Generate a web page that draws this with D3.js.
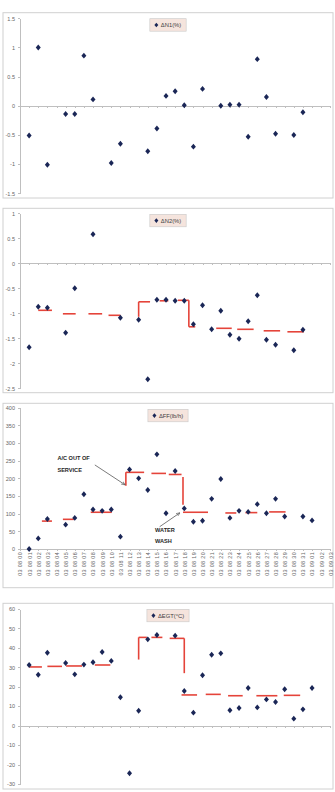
<!DOCTYPE html>
<html>
<head>
<meta charset="utf-8">
<script src="https://cdn.jsdelivr.net/npm/d3@7"></script>
<style>
  body { margin: 0; background: #fff; }
  svg { display: block; font-family: "Liberation Sans", Arial, sans-serif; }
  .axis text { fill: #666; font-size: 5.5px; }
  .axis path, .axis line { stroke: #bfbfbf; shape-rendering: crispEdges; }
  .note { font-size: 5.6px; font-weight: bold; fill: #262626; }
</style>
</head>
<body>
<div class="chart"></div>
<script>
// category labels (only shown under the FF panel)
var categories = ["03 08 00", "03 08 01", "03 08 02", "03 08 03", "03 08 04", "03 08 05",
  "03 08 06", "03 08 07", "03 08 08", "03 08 09", "03 08 10", "03 08 11", "03 08 12",
  "03 08 13", "03 08 14", "03 08 15", "03 08 16", "03 08 17", "03 08 18", "03 08 19",
  "03 08 20", "03 08 21", "03 08 22", "03 08 23", "03 08 24", "03 08 25", "03 08 26",
  "03 08 27", "03 08 28", "03 08 29", "03 08 30", "03 08 31", "03 09 01", "03 09 02",
  "03 09 03"];

// one value per category, null = no reading
var n1Values = [null, -0.51, 1.0, -1.01, null, -0.14, -0.14, 0.86, 0.11, null, -0.98, -0.65,
  null, null, -0.78, -0.39, 0.17, 0.25, 0.01, -0.70, 0.29, null, 0.0, 0.02, 0.02, -0.53,
  0.80, 0.15, -0.48, null, -0.50, -0.11, null, null, null];

var n2Values = [null, -1.68, -0.87, -0.89, null, -1.39, -0.50, null, 0.58, null, null, -1.09,
  null, -1.13, -2.32, -0.73, -0.73, -0.75, -0.75, -1.22, -0.84, -1.32, -0.95, -1.43, -1.51,
  -1.16, -0.64, -1.53, -1.63, null, -1.74, -1.33, null, null, null];

var ffValues = [null, 0, 30, 85, null, 69, 88, 155, 112, 108, 112, 35, 225, 200, 167, 268,
  101, 221, 115, 77, 80, 142, 198, 88, 108, 105, 127, 101, 142, 92, null, 92, 81, null, null];

var egtValues = [null, 31.2, 26.2, 37.5, null, 32.2, 26.4, 31.4, 32.6, 37.9, 33.3, 14.6,
  -24.5, 7.7, 44.4, 46.6, null, 46.3, 17.8, 6.7, 25.9, 36.5, 37.2, 7.9, 9.1, 19.4, 9.4,
  13.5, 12.2, 18.7, 3.6, 8.4, 19.4, null, null];

// red average levels: [from category, to category, level]
var n2Levels = [[2.0, 3.5, -0.94], [4.7, 6.1, -1.01], [7.5, 9.0, -1.01], [9.7, 11.0, -1.04],
  [13.0, 14.25, -0.77], [15.3, 16.25, -0.75], [17.3, 18.5, -0.74], [18.5, 19.2, -1.27],
  [21.5, 23.2, -1.30], [23.8, 25.6, -1.32], [26.7, 28.5, -1.35], [29.3, 31.1, -1.37]];
// vertical jumps: [category, from, to]
var n2Steps = [[13.0, -1.07, -0.77], [18.5, -0.74, -1.27]];

var ffLevels = [[2.4, 3.5, 79], [4.7, 5.9, 84], [7.75, 10.05, 104], [11.6, 13.6, 217],
  [14.4, 16.0, 214], [16.3, 17.7, 211], [17.86, 20.6, 104], [22.5, 23.7, 102],
  [24.7, 26.0, 103], [27.3, 29.1, 105]];
var ffSteps = [[11.6, 179, 217], [17.86, 204, 125]];

var egtLevels = [[1.0, 2.4, 30.2], [3.0, 4.6, 30.5], [5.05, 6.8, 30.7], [8.2, 9.9, 31.2],
  [13.0, 13.9, 45.4], [14.4, 15.6, 45.4], [16.4, 18.0, 44.9], [17.7, 19.4, 15.8],
  [20.35, 22.0, 16.1], [22.8, 24.4, 15.4], [25.9, 28.2, 15.4], [28.9, 30.7, 15.6]];
var egtSteps = [[13.0, 34, 45.4], [18.0, 44.9, 27]];

var n1Ticks = [-1.5, -1, -0.5, 0, 0.5, 1, 1.5];
var n2Ticks = [-2.5, -2, -1.5, -1, -0.5, 0, 0.5, 1];
var ffTicks = [0, 50, 100, 150, 200, 250, 300, 350, 400];
var egtTicks = [-30, -20, -10, 0, 10, 20, 30, 40, 50, 60];

// text notes on the FF panel: [category, value, text]
var ffNotes = [[4.1, 252, "A/C OUT OF"], [4.1, 219, "SERVICE"], [14.8, 48, "WATER"], [14.8, 17, "WASH"]];
var ffArrows = [[8.2, 238, 11.5, 182], [15.3, 63, 17.5, 102]];

var svg = d3.select(".chart")
  .append("svg")
  .attr("width", 335)
  .attr("height", 792);

svg.append("defs").append("marker")
  .attr("id", "arrow")
  .attr("viewBox", "0 0 10 10")
  .attr("refX", 9).attr("refY", 5)
  .attr("markerWidth", 5).attr("markerHeight", 5)
  .attr("orient", "auto")
  .append("path")
  .attr("d", "M0,1 L10,5 L0,9")
  .attr("fill", "none")
  .attr("stroke", "#595959")
  .attr("stroke-width", 1.5);

var xScale = d3.scaleLinear()
  .domain([0, categories.length - 1])
  .range([20, 330.3]);

var diamond = {
  draw: function(ctx, size) {
    var w = Math.sqrt(size) / 2, h = w * 1.18;
    ctx.moveTo(0, -h); ctx.lineTo(w, 0); ctx.lineTo(0, h); ctx.lineTo(-w, 0); ctx.closePath();
  }
};

var panels = [
  {name: "\u0394N1(%)", values: n1Values, ticks: n1Ticks, box: [12.7, 198], plot: [18.3, 193.3]},
  {name: "\u0394N2(%)", values: n2Values, ticks: n2Ticks, box: [208.3, 392.7], plot: [213.3, 388.3],
    levels: n2Levels, steps: n2Steps},
  {name: "\u0394FF(lb/h)", values: ffValues, ticks: ffTicks, box: [403.3, 587.7], plot: [407.7, 549],
    levels: ffLevels, steps: ffSteps, labels: true, notes: ffNotes, arrows: ffArrows},
  {name: "\u0394EGT(\u00b0C)", values: egtValues, ticks: egtTicks, box: [603.3, 789], plot: [609, 784],
    levels: egtLevels, steps: egtSteps}
];

panels.forEach(function(p) {
  var g = svg.append("g");

  g.append("rect")
    .attr("x", 3).attr("y", p.box[0])
    .attr("width", 330).attr("height", p.box[1] - p.box[0])
    .attr("fill", "#fff")
    .attr("stroke", "#d0d0d0");

  var yScale = d3.scaleLinear()
    .domain(d3.extent(p.ticks))
    .range([p.plot[1], p.plot[0]]);

  g.append("g")
    .attr("class", "axis")
    .attr("transform", "translate(20,0)")
    .call(d3.axisLeft(yScale).tickValues(p.ticks).tickSize(2).tickSizeOuter(0).tickPadding(3)
      .tickFormat(function(d) { return String(d); }));

  var xAxis = g.append("g")
    .attr("class", "axis")
    .attr("transform", `translate(0, ${yScale(0)})`)
    .call(d3.axisBottom(xScale).tickValues(d3.range(categories.length)).tickSize(2).tickSizeOuter(0)
      .tickFormat(""));
  xAxis.select(".domain").attr("d", `M20,0.5H331`);

  if (p.labels) {
    xAxis.selectAll(".tick").append("text")
      .attr("transform", "translate(0,3) rotate(-90)")
      .attr("dy", "0.35em")
      .attr("text-anchor", "end")
      .style("font-size", "5.4px")
      .style("letter-spacing", "0.35px")
      .attr("fill", "#7f7f7f")
      .text(function(d) { return categories[d]; });
  }

  if (p.levels) {
    g.selectAll(".level")
      .data(p.levels)
      .enter()
      .append("line")
      .attr("x1", d => xScale(d[0]))
      .attr("x2", d => xScale(d[1]))
      .attr("y1", d => yScale(d[2]))
      .attr("y2", d => yScale(d[2]))
      .attr("stroke", "#e5443a")
      .attr("stroke-width", 1.6);

    g.selectAll(".step")
      .data(p.steps)
      .enter()
      .append("line")
      .attr("x1", d => xScale(d[0]))
      .attr("x2", d => xScale(d[0]))
      .attr("y1", d => yScale(d[1]))
      .attr("y2", d => yScale(d[2]))
      .attr("stroke", "#e5443a")
      .attr("stroke-width", 1.6);
  }

  var pts = p.values
    .map(function(v, i) { return {i: i, v: v}; })
    .filter(function(d) { return d.v !== null; });

  g.selectAll(".pt")
    .data(pts)
    .enter()
    .append("path")
    .attr("transform", d => `translate(${xScale(d.i)},${yScale(d.v)})`)
    .attr("d", d3.symbol().type(diamond).size(25))
    .attr("fill", "#1a2656");

  if (p.notes) {
    g.selectAll(".note")
      .data(p.notes)
      .enter()
      .append("text")
      .attr("class", "note")
      .attr("x", d => xScale(d[0]))
      .attr("y", d => yScale(d[1]))
      .text(d => d[2]);

    g.selectAll(".arrow")
      .data(p.arrows)
      .enter()
      .append("line")
      .attr("x1", d => xScale(d[0]))
      .attr("y1", d => yScale(d[1]))
      .attr("x2", d => xScale(d[2]))
      .attr("y2", d => yScale(d[3]))
      .attr("stroke", "#595959")
      .attr("stroke-width", 0.8)
      .attr("marker-end", "url(#arrow)");
  }

  // legend box
  var legend = g.append("g");
  var lx = 168, ly = p.box[0] + 6;
  var label = legend.append("text")
    .attr("y", ly + 8.3)
    .style("font-size", "5.8px")
    .attr("fill", "#404040")
    .text(p.name);
  var tw = label.node().getComputedTextLength();
  var bw = tw + 16;
  label.attr("x", lx - bw / 2 + 11);
  legend.insert("rect", "text")
    .attr("x", lx - bw / 2).attr("y", ly)
    .attr("width", bw).attr("height", 12.5)
    .attr("fill", "#f5e4dd")
    .attr("stroke", "#c9c9c9")
    .attr("stroke-width", 0.6);
  legend.append("path")
    .attr("transform", `translate(${lx - bw / 2 + 6.5},${ly + 6.3})`)
    .attr("d", d3.symbol().type(diamond).size(16))
    .attr("fill", "#1a2656");
});
</script>
</body>
</html>
